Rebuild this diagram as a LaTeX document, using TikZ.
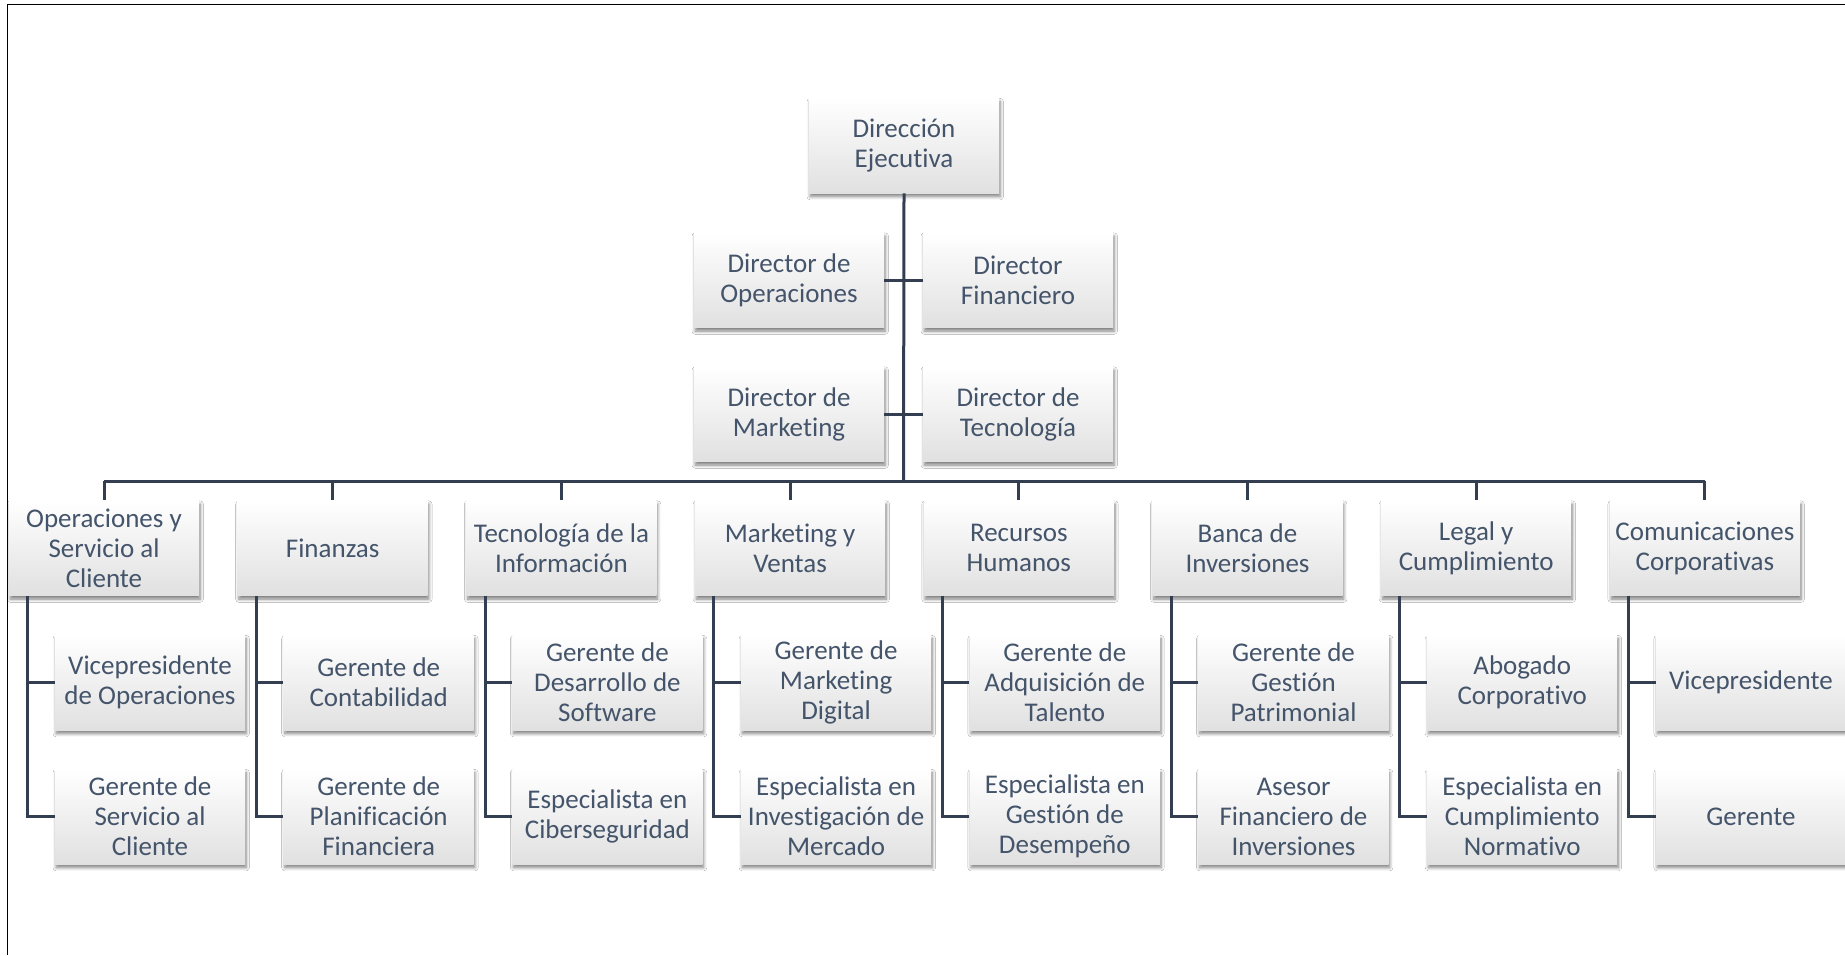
\documentclass[tikz,border=0pt]{standalone}
\usepackage{fontspec}
\setmainfont[RawFeature=-liga]{Carlito}
\usetikzlibrary{shadows.blur}
\definecolor{txt}{HTML}{44546A}
\definecolor{ln}{HTML}{333F50}
\tikzset{
  orgbox/.style={rectangle, minimum width=95pt, minimum height=47.5pt, inner sep=0pt,
    align=center, text=txt, font=\fontsize{13.5pt}{15pt}\selectfont,
    top color=white, middle color=white, bottom color=black!12,
    blur shadow={shadow xshift=0.6pt, shadow yshift=-1.8pt, shadow blur radius=1.6pt, shadow blur steps=6, shadow opacity=50}},
  conn/.style={draw=ln, line width=1.5pt}
}
\begin{document}
\begin{tikzpicture}[x=0.5pt,y=-0.5pt]
\useasboundingbox (0,0) rectangle (1845,955);
\fill[white] (0,0) rectangle (1845,955);
\draw[line width=0.8pt] (7.5,955) -- (7.5,4.5) -- (1845,4.5);

\node[orgbox] (top) at (904,145.5) {Dirección\\Ejecutiva};
\node[orgbox] (dop) at (789,280) {Director de\\Operaciones};
\node[orgbox] (dfi) at (1018,280) {Director\\Financiero};
\node[orgbox] (dmk) at (789,414) {Director de\\Marketing};
\node[orgbox] (dte) at (1018,414) {Director de\\Tecnología};
\coordinate (bus) at (903.5,481);

\foreach \i/\ta/\tb/\tc in {
 0/{Operaciones y\\Servicio al\\Cliente}/{Vicepresidente\\de Operaciones}/{Gerente de\\Servicio al\\Cliente},
 1/{Finanzas}/{Gerente de\\Contabilidad}/{Gerente de\\Planificación\\Financiera},
 2/{Tecnología de la\\Información}/{Gerente de\\Desarrollo de\\Software}/{Especialista en\\Ciberseguridad},
 3/{Marketing y\\Ventas}/{Gerente de\\Marketing\\Digital}/{Especialista en\\Investigación de\\Mercado},
 4/{Recursos\\Humanos}/{Gerente de\\Adquisición de\\Talento}/{Especialista en\\Gestión de\\Desempeño},
 5/{Banca de\\Inversiones}/{Gerente de\\Gestión\\Patrimonial}/{Asesor\\Financiero de\\Inversiones},
 6/{Legal y\\Cumplimiento}/{Abogado\\Corporativo}/{Especialista en\\Cumplimiento\\Normativo},
 7/{Comunicaciones\\Corporativas}/{Vicepresidente}/{Gerente}} {
  \pgfmathsetmacro\cx{104+228.7*\i}
  \node[orgbox] (l\i) at (\cx,548) {\ta};
  \node[orgbox] (a\i) at (\cx+46,682.5) {\tb};
  \node[orgbox] (b\i) at (\cx+46,816.5) {\tc};
  \draw[conn] ([xshift=9.5pt]l\i.south west) |- (a\i.west);
  \draw[conn] ([xshift=9.5pt]l\i.south west) |- (b\i.west);
  \draw[conn] (l\i.north) -- (l\i.north |- bus);
}
\draw[conn] (top.south) -- (bus);
\draw[conn] (dop.east) -- (dfi.west);
\draw[conn] (dmk.east) -- (dte.west);
\draw[conn] (l0.north |- bus) -- (l7.north |- bus);
\end{tikzpicture}
\end{document}
